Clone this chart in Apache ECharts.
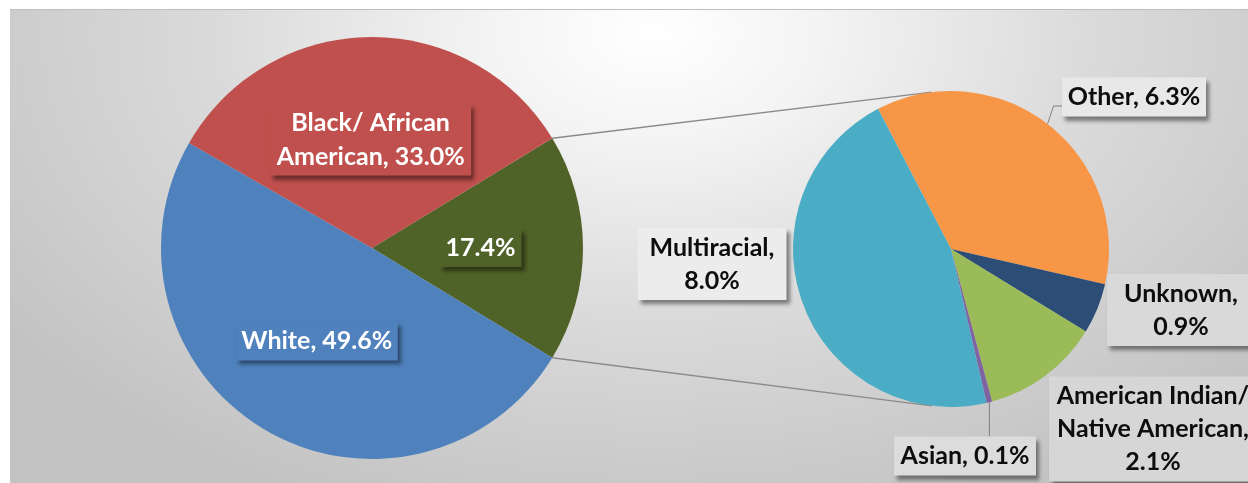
<!DOCTYPE html>
<html>
<head>
<meta charset="utf-8">
<script src="https://cdn.jsdelivr.net/npm/echarts@6/dist/echarts.min.js"></script>
<style>
  html, body { margin: 0; padding: 0; background: #fff; }
  #bg {
    position: absolute; left: 10px; top: 9px; width: 1238px; height: 474px;
    border-top: 1px solid #bdbdbd; box-sizing: border-box;
    background: radial-gradient(ellipse 65% 110% at 52% 5%, #ffffff 0%, #f4f4f4 20%, #dadada 55%, #c2c2c2 100%);
  }
  #chart { position: absolute; left: 0; top: 0; width: 1248px; height: 483px; }
</style>
</head>
<body>
<div id="bg"></div>
<div id="chart"></div>
<script>
  // main pie (the first slice is the group split out into the second pie)
  const mainNames = ['', 'White', 'Black/ African\nAmerican'];
  const mainValues = [17.4, 49.6, 33.0];
  const mainColors = ['#4f6228', '#4f81bd', '#c0504d'];

  // second pie
  const subNames = ['Other', 'Unknown', 'American Indian/\nNative American', 'Asian', 'Multiracial'];
  const subValues = [6.3, 0.9, 2.1, 0.1, 8.0];
  const subColors = ['#f79646', '#2c4d75', '#9bbb59', '#8064a2', '#4bacc6'];
  const subValueOnNewLine = [false, true, true, false, true];

  // layout
  const mainCenter = [372, 248], mainRadius = 211;
  const subCenter = [951, 249], subRadius = 158;
  const subLabelOffset = [[183, -152], [230, 61], [202, 180], [14, 207], [-239, 15]];
  const subLabelWidth = [132, 136, 196, 130, 137];
  const subLabelBg = ['#e8e8e8', '#d9d9d9', '#d6d6d6', '#dcdcdc', '#ececec'];
  const mainLabelWidth = [66, 146, 185];

  const font = 'Lato, "Open Sans", sans-serif';

  function labelText(name, value, newLine) {
    const pct = value.toFixed(1) + '%';
    if (!name) return pct;
    return name + ',' + (newLine ? '\n' : ' ') + pct;
  }

  const mainTotal = mainValues.reduce((a, b) => a + b, 0);
  const half = mainValues[0] / mainTotal * Math.PI;
  const deg = Math.PI / 180;
  const p1 = [mainCenter[0] + mainRadius * Math.cos(half), mainCenter[1] - mainRadius * Math.sin(half)];
  const p2 = [mainCenter[0] + mainRadius * Math.cos(half), mainCenter[1] + mainRadius * Math.sin(half)];
  const q1 = [subCenter[0] + subRadius * Math.cos(97 * deg), subCenter[1] - subRadius * Math.sin(97 * deg)];
  const q2 = [subCenter[0] + subRadius * Math.cos(97 * deg), subCenter[1] + subRadius * Math.sin(97 * deg)];

  const labelShadow = {
    shadowBlur: 4,
    shadowOffsetX: 3,
    shadowOffsetY: 4,
    shadowColor: 'rgba(0,0,0,0.45)'
  };

  const chart = echarts.init(document.getElementById('chart'));
  chart.setOption({
    animation: false,
    backgroundColor: 'transparent',
    graphic: [
      { type: 'line', z: 0, shape: { x1: p1[0], y1: p1[1], x2: q1[0], y2: q1[1] }, style: { stroke: '#8a8a8a', lineWidth: 1.4 } },
      { type: 'line', z: 0, shape: { x1: p2[0], y1: p2[1], x2: q2[0], y2: q2[1] }, style: { stroke: '#8a8a8a', lineWidth: 1.4 } }
    ],
    series: [
      {
        type: 'pie',
        center: mainCenter,
        radius: mainRadius,
        startAngle: mainValues[0] / mainTotal * 180,
        clockwise: true,
        avoidLabelOverlap: false,
        emphasis: { disabled: true },
        label: {
          show: true,
          position: 'inside',
          color: '#ffffff',
          fontFamily: font,
          fontWeight: 'bold',
          fontSize: 25,
          lineHeight: 34,
          align: 'center',
          overflow: 'none',
          padding: [2, 8],
          formatter: p => labelText(p.name, p.value, false),
          ...labelShadow
        },
        data: mainValues.map((v, i) => ({
          value: v,
          name: mainNames[i],
          itemStyle: { color: mainColors[i] },
          label: { backgroundColor: mainColors[i], width: mainLabelWidth[i] }
        }))
      },
      {
        type: 'pie',
        center: subCenter,
        radius: subRadius,
        startAngle: 117.5,
        clockwise: true,
        avoidLabelOverlap: false,
        emphasis: { disabled: true },
        label: {
          show: true,
          position: 'outside',
          color: '#0d0d0d',
          fontFamily: font,
          fontWeight: 'bold',
          fontSize: 25,
          lineHeight: 33,
          align: 'center',
          overflow: 'none',
          padding: [3, 6],
          formatter: p => labelText(p.name, p.value, subValueOnNewLine[p.dataIndex]),
          ...labelShadow
        },
        labelLine: {
          show: true,
          lineStyle: { color: '#7f7f7f', width: 1 }
        },
        labelLayout: function (p) {
          const i = p.dataIndex;
          const x = subCenter[0] + subLabelOffset[i][0];
          const y = subCenter[1] + subLabelOffset[i][1];
          const res = { x: x, y: y, align: 'center', verticalAlign: 'middle' };
          const pts = p.labelLinePoints;
          if (pts && pts.length) {
            const a = pts[0];
            const w = p.labelRect.width, h = p.labelRect.height;
            if (i === 0) {
              res.labelLinePoints = [a, [a[0] + 6, y + 9], [x - w / 2, y + 9]];
            } else if (i === 3) {
              res.labelLinePoints = [a, [a[0], a[1] + 1], [a[0], y - h / 2]];
            }
          }
          return res;
        },
        data: subValues.map((v, i) => ({
          value: v,
          name: subNames[i],
          itemStyle: { color: subColors[i] },
          label: { backgroundColor: subLabelBg[i], width: subLabelWidth[i] },
          labelLine: { show: i === 0 || i === 3 }
        }))
      }
    ]
  });
</script>
</body>
</html>
